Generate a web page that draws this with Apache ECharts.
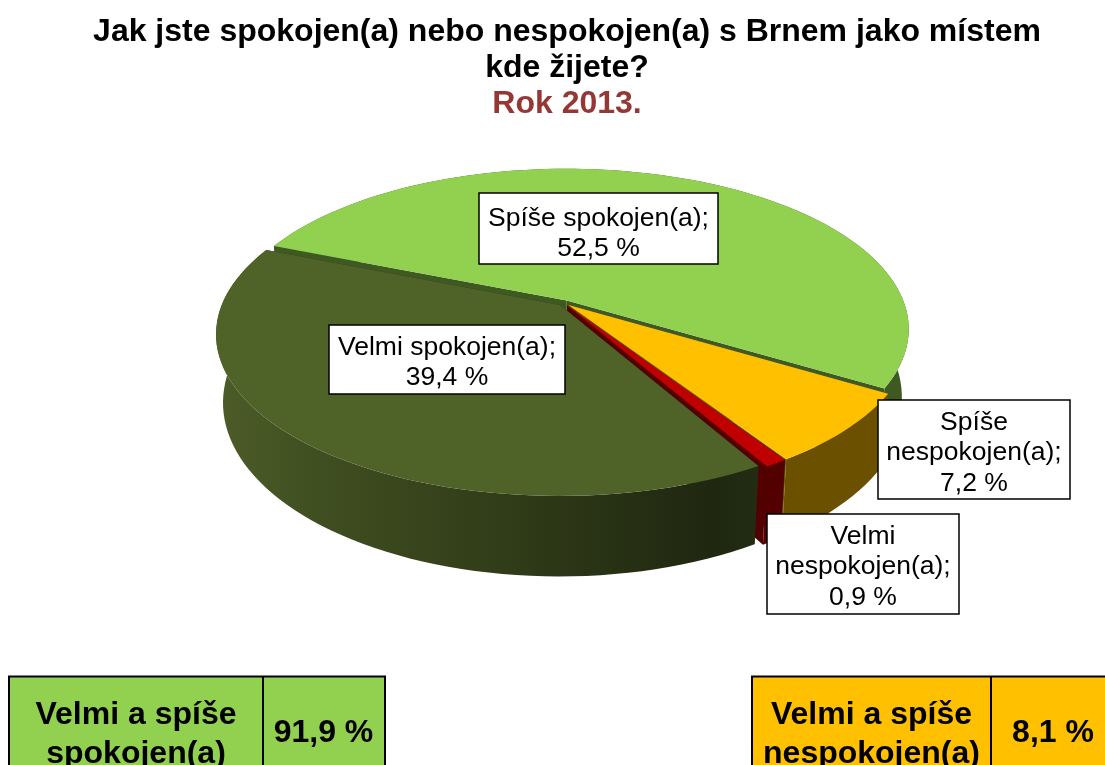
<!DOCTYPE html>
<html>
<head>
<meta charset="utf-8">
<style>
  html, body { margin: 0; padding: 0; background: #fff; }
  #chart { width: 1105px; height: 765px; }
</style>
</head>
<body>
<div id="chart"></div>
<script src="https://cdn.jsdelivr.net/npm/echarts@6/dist/echarts.min.js"></script>
<script>
// data, in clockwise order from the cut on the left
const categories = ['Spíše spokojen(a);', 'Spíše\nnespokojen(a);', 'Velmi\nnespokojen(a);', 'Velmi spokojen(a);'];
const shares = [52.5, 7.2, 0.9, 39.4];
const summaryNames = ['Velmi a spíše\nspokojen(a)', 'Velmi a spíše\nnespokojen(a)'];
const summaryValues = [91.9, 8.1];

const FONT = '"Liberation Sans", Arial, sans-serif';

// barvy: vrch, bocni stena
const topColors = ['#92D050', '#FFC000', '#C00000', '#4F6228'];
const wallColors = ['#3E5A22', '#6B5000', '#520000', null];
const summaryColors = ['#92D050', '#FFC000'];

// labels boxes [x, y, w, h, text shift]
const labelBoxes = [
  [479, 193, 239, 71, 5],
  [878, 400, 192, 99, 3.5],
  [767, 514, 192, 100, 3],
  [329, 325, 236, 69, 3]
];

// 3d pie projection
const cx = 564;
const cy = 303;
const rx = 337.5;
const ry = 156;
const persp = 0.178;
const depth = 66;
const bottomScale = 0.98;
const explode = 0.018;
const startAngle = 292;

function fmt(v) {
  return v.toFixed(1).replace('.', ',') + ' %';
}

// plane point (u, v) -> screen, h = 0 top face, 1 bottom face
function project(u, v, h) {
  const w = 1 - persp * v;
  const sx = h ? bottomScale : 1;
  return [cx + sx * rx * u / w, cy + (ry * v + (h ? depth : 0)) / w];
}

function rimPoint(deg, ou, ov) {
  const a = deg * Math.PI / 180;
  return [Math.sin(a) + ou, -Math.cos(a) + ov];
}

function renderSlice(params, api) {
  const i = params.dataIndex;
  const from = api.value(0);
  const to = api.value(1);
  const mid = (from + to) / 2 * Math.PI / 180;
  const ou = Math.sin(mid) * explode;
  const ov = -Math.cos(mid) * explode;

  const steps = Math.max(4, Math.ceil((to - from) / 2));
  const top = [];
  const bottom = [];
  for (let s = 0; s <= steps; s++) {
    const p = rimPoint(from + (to - from) * s / steps, ou, ov);
    top.push(project(p[0], p[1], 0));
    bottom.push(project(p[0], p[1], 1));
  }
  const apexTop = project(ou, ov, 0);
  const apexBottom = project(ou, ov, 1);

  let wallFill = wallColors[i];
  if (!wallFill) {
    wallFill = new echarts.graphic.LinearGradient(0, 0, 1, 0, [
      { offset: 0, color: '#4C5C28' },
      { offset: 0.2, color: '#3F4E20' },
      { offset: 0.55, color: '#303B18' },
      { offset: 0.92, color: '#1F2710' },
      { offset: 1, color: '#232C13' }
    ]);
  }
  const faceFill = wallColors[i] || '#232C13';

  const poly = (points, fill) => ({
    type: 'polygon',
    shape: { points },
    style: { fill }
  });

  return {
    type: 'group',
    children: [
      poly([apexTop, top[0], bottom[0], apexBottom], faceFill),
      poly([apexTop, top[steps], bottom[steps], apexBottom], faceFill),
      poly(top.concat(bottom.slice().reverse()), wallFill),
      poly([apexTop].concat(top), topColors[i])
    ]
  };
}

// cumulative angles from the shares
const total = shares.reduce((a, b) => a + b, 0);
let acc = startAngle;
const sliceData = shares.map((v) => {
  const item = [acc, acc + v / total * 360];
  acc = item[1];
  return item;
});

const graphics = [];
labelBoxes.forEach((b, i) => {
  graphics.push({
    type: 'rect',
    z: 10,
    shape: { x: b[0], y: b[1], width: b[2], height: b[3] },
    style: { fill: '#fff', stroke: '#000', lineWidth: 1.5 }
  });
  graphics.push({
    type: 'text',
    z: 11,
    style: {
      x: b[0] + b[2] / 2,
      y: b[1] + b[3] / 2 + b[4],
      text: categories[i] + '\n' + fmt(shares[i]),
      align: 'center',
      verticalAlign: 'middle',
      font: '26.5px ' + FONT,
      lineHeight: 30.5,
      fill: '#000'
    }
  });
});

// tabulky dole, prechazi pres okraj obrazku
const summaryBoxes = [
  { x: 9, split: 263, end: 385 },
  { x: 752, split: 991, end: 1125 }
];
const summaryValueX = [323.5, 1053];
summaryBoxes.forEach((t, i) => {
  graphics.push({
    type: 'rect',
    shape: { x: t.x, y: 676.5, width: t.end - t.x, height: 120 },
    style: { fill: summaryColors[i], stroke: '#000', lineWidth: 2 }
  });
  graphics.push({
    type: 'line',
    shape: { x1: t.split, y1: 676, x2: t.split, y2: 765 },
    style: { stroke: '#000', lineWidth: 2 }
  });
  graphics.push({
    type: 'text',
    style: {
      x: (t.x + t.split) / 2,
      y: 734.5,
      text: summaryNames[i],
      align: 'center',
      verticalAlign: 'middle',
      font: 'bold 32px ' + FONT,
      lineHeight: 39,
      fill: '#000'
    }
  });
  graphics.push({
    type: 'text',
    style: {
      x: summaryValueX[i],
      y: 733,
      text: fmt(summaryValues[i]),
      align: 'center',
      verticalAlign: 'middle',
      font: 'bold 32px ' + FONT,
      fill: '#000'
    }
  });
});

const myChart = echarts.init(document.getElementById('chart'));
myChart.setOption({
  animation: false,
  title: {
    left: 562,
    top: 9,
    textAlign: 'center',
    text: '{a|Jak jste spokojen(a) nebo nespokojen(a) s Brnem jako místem}\n{a|kde žijete?}\n{b|Rok 2013.}',
    textStyle: {
      rich: {
        a: { fontFamily: FONT, fontWeight: 'bold', fontSize: 32, lineHeight: 36, color: '#000' },
        b: { fontFamily: FONT, fontWeight: 'bold', fontSize: 32, lineHeight: 36, color: '#953735' }
      }
    }
  },
  series: [{
    type: 'custom',
    coordinateSystem: 'none',
    silent: true,
    renderItem: renderSlice,
    data: sliceData
  }],
  graphic: { elements: graphics }
});
</script>
</body>
</html>
